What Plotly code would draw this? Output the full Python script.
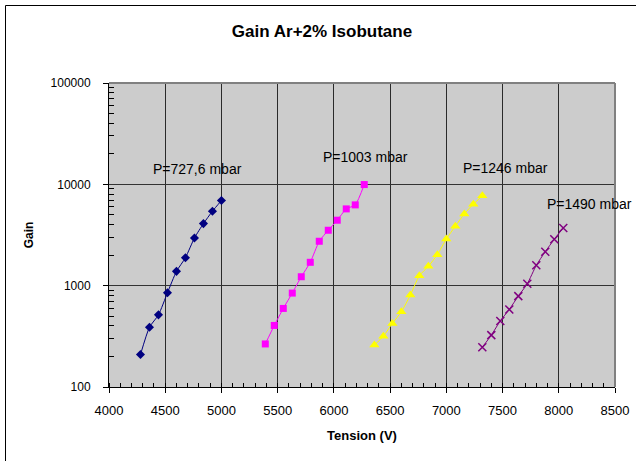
import plotly.graph_objects as go
import math

# Data
v_728 = [4280, 4360, 4440, 4520, 4600, 4680, 4760, 4840, 4920, 5000]
g_728 = [209, 389, 515, 851, 1385, 1888, 2957, 4096, 5432, 6916]

v_1003 = [5390, 5470, 5550, 5630, 5710, 5790, 5870, 5950, 6030, 6110, 6190, 6270]
g_1003 = [266, 405, 596, 845, 1225, 1700, 2743, 3523, 4425, 5724, 6270, 9950]

v_1246 = [6360, 6440, 6520, 6600, 6680, 6760, 6840, 6920, 7000, 7080, 7160, 7240, 7320]
g_1246 = [259, 317, 424, 552, 807, 1253, 1552, 2022, 2890, 3862, 5110, 6370, 7695]

v_1490 = [7320, 7400, 7480, 7560, 7640, 7720, 7800, 7880, 7960, 8040]
g_1490 = [247, 325, 449, 583, 789, 1044, 1588, 2165, 2870, 3713]

labels = ["P=727,6 mbar", "P=1003 mbar", "P=1246 mbar", "P=1490 mbar"]
label_x = [4788, 6284, 7529, 8277]
label_y = [14230, 18700, 14560, 6413]

x_ticks = [4000, 4500, 5000, 5500, 6000, 6500, 7000, 7500, 8000, 8500]
y_ticks = [100, 1000, 10000, 100000]

FONT = "Liberation Sans, Arial"

fig = go.Figure()

series = [
    (v_728, g_728, "#000080", "diamond", 7),
    (v_1003, g_1003, "#FF00FF", "square", 7),
    (v_1246, g_1246, "#FFFF00", "triangle-up", 9),
    (v_1490, g_1490, "#800080", "x-thin", 8),
]
for xs, ys, col, sym, sz in series:
    marker = dict(symbol=sym, size=sz, color=col)
    if sym == "x-thin":
        marker["line"] = dict(color=col, width=1.5)
    else:
        marker["line"] = dict(width=0)
    fig.add_trace(go.Scatter(
        x=xs, y=ys, mode="lines+markers",
        line=dict(color=col, width=1, shape="spline", smoothing=0.6),
        marker=marker, showlegend=False, cliponaxis=False,
    ))

for t, lx, ly in zip(labels, label_x, label_y):
    fig.add_annotation(x=lx, y=math.log10(ly), text=t, showarrow=False,
                       font=dict(family=FONT, size=14, color="#000000"),
                       xanchor="center", yanchor="middle")

fig.update_layout(
    width=636, height=461,
    margin=dict(l=109, r=21, t=83, b=74, autoexpand=False),
    paper_bgcolor="#FFFFFF",
    plot_bgcolor="#CCCCCC",
    font=dict(family=FONT, color="#000000"),
    title=dict(text="<b>Gain Ar+2% Isobutane</b>", x=322/636, xanchor="center",
               y=1 - 31.5/461, yanchor="middle", yref="container", xref="container",
               font=dict(family=FONT, size=17, color="#000000")),
    xaxis=dict(
        range=[4000, 8500], tickvals=x_ticks, ticktext=[str(v) for v in x_ticks],
        ticks="outside", ticklen=5, tickcolor="#000000",
        showgrid=True, gridcolor="#2a2a2a", gridwidth=1,
        showline=True, linecolor="#000000", linewidth=1,
        zeroline=False, automargin=False,
        minor=dict(dtick=100, ticks="inside", ticklen=4, tickcolor="#000000", showgrid=False),
        tickfont=dict(family=FONT, size=13),
        ticklabelstandoff=6,
        title=dict(text="<b>Tension (V)</b>", standoff=14,
                   font=dict(family=FONT, size=13)),
    ),
    yaxis=dict(
        type="log", range=[2, 5], tickvals=y_ticks, ticktext=[str(v) for v in y_ticks],
        ticks="outside", ticklen=5, tickcolor="#000000",
        showgrid=True, gridcolor="#333333", gridwidth=1,
        showline=True, linecolor="#000000", linewidth=1,
        zeroline=False, automargin=False,
        minor=dict(ticks="inside", ticklen=5, tickcolor="#000000", showgrid=False,
                   tickvals=[m * 10 ** e for e in range(2, 5) for m in range(2, 10)]),
        tickfont=dict(family=FONT, size=12),
        ticklabelstandoff=10,
        title=dict(text="<b>Gain</b>", standoff=14,
                   font=dict(family=FONT, size=12)),
    ),
)

# plot area top/right border (gray)
fig.add_shape(type="line", xref="paper", yref="paper", x0=0, x1=1, y0=1, y1=1,
              line=dict(color="#808080", width=2), layer="above")
fig.add_shape(type="line", xref="paper", yref="paper", x0=1, x1=1, y0=0, y1=1,
              line=dict(color="#808080", width=2), layer="above")
# outer chart border (left and top)
pw = 636 - 109 - 21
ph = 461 - 83 - 74
fig.add_shape(type="line", xref="paper", yref="paper",
              x0=(5.5 - 109) / pw, x1=(640 - 109) / pw,
              y0=(461 - 74 - 5.5) / ph, y1=(461 - 74 - 5.5) / ph,
              line=dict(color="#000000", width=1))
fig.add_shape(type="line", xref="paper", yref="paper",
              x0=(5.5 - 109) / pw, x1=(5.5 - 109) / pw,
              y0=(461 - 74 - 5.5) / ph, y1=(-10 - 74) / ph,
              line=dict(color="#000000", width=1))

fig.write_html("out.html",
               config={"displayModeBar": False},
               post_script="document.body.style.margin='0';document.body.style.overflow='hidden';")
